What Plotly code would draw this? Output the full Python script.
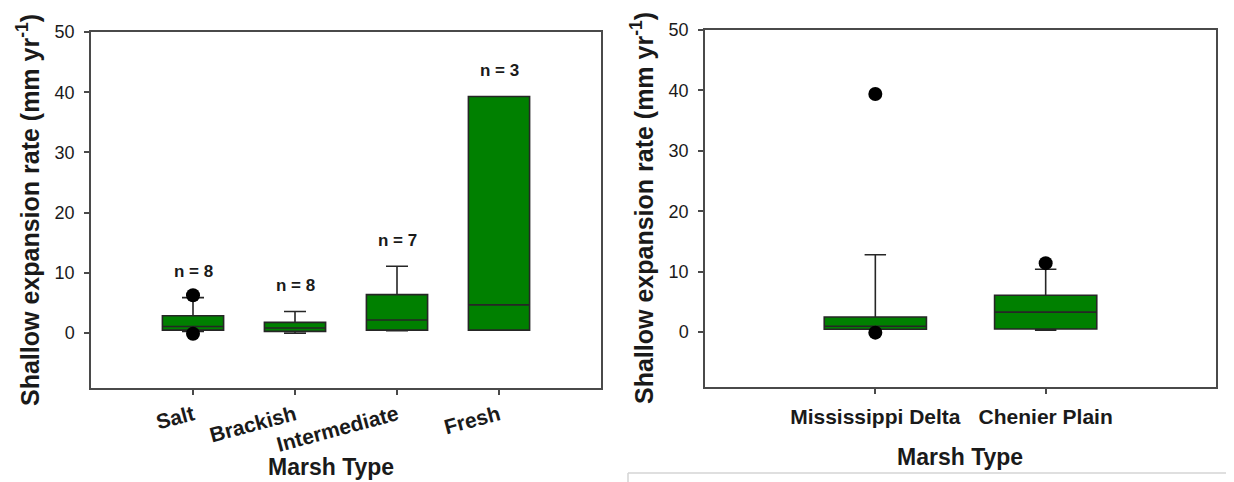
import plotly.graph_objects as go

# ---- Left panel data (by marsh type) ----
marsh_types = ["Salt", "Brackish", "Intermediate", "Fresh"]
marsh_pos = [1, 2, 3, 4]
marsh_q1 = [0.5, 0.3, 0.5, 0.5]
marsh_median = [1.1, 0.85, 2.2, 4.7]
marsh_q3 = [2.9, 1.8, 6.4, 39.3]
marsh_low = [0.3, 0.0, 0.4, 0.5]
marsh_high = [5.9, 3.6, 11.1, 39.3]
marsh_n = [8, 8, 7, 3]
marsh_out_x = [1, 1]
marsh_out_y = [6.3, -0.1]

# ---- Right panel data (by region) ----
regions = ["Mississippi Delta", "Chenier Plain"]
region_pos = [1, 2]
region_q1 = [0.45, 0.5]
region_median = [0.95, 3.3]
region_q3 = [2.5, 6.1]
region_low = [0.45, 0.3]
region_high = [12.8, 10.4]
region_out_x = [1, 1, 2]
region_out_y = [39.4, -0.1, 11.4]

y_ticks = [0, 10, 20, 30, 40, 50]

FONT = "Liberation Sans"
GREEN = "rgb(0,128,0)"
LINE = "#262626"
AXIS = "#4a4a4a"
TXT = "#1a1a1a"

# page has an 8px body margin: figure is sized to fit, and page pixels map to paper
OFF = 8
W, H = 1234 - OFF, 482 - OFF


def px(x):
    return (x - OFF) / W


def py(y):
    return 1 - (y - OFF) / H


fig = go.Figure()

fig.add_trace(go.Box(x=marsh_pos, q1=marsh_q1, median=marsh_median, q3=marsh_q3,
                     lowerfence=marsh_low, upperfence=marsh_high,
                     boxpoints=False, width=0.6, whiskerwidth=0.36,
                     fillcolor=GREEN, line=dict(color=LINE, width=1.6),
                     xaxis="x", yaxis="y", showlegend=False))
fig.add_trace(go.Box(x=region_pos, q1=region_q1, median=region_median, q3=region_q3,
                     lowerfence=region_low, upperfence=region_high,
                     boxpoints=False, width=0.6, whiskerwidth=0.21,
                     fillcolor=GREEN, line=dict(color=LINE, width=1.6),
                     xaxis="x2", yaxis="y2", showlegend=False))

# outliers
fig.add_trace(go.Scatter(x=marsh_out_x, y=marsh_out_y, mode="markers",
                         marker=dict(color="black", size=14),
                         xaxis="x", yaxis="y", showlegend=False))
fig.add_trace(go.Scatter(x=region_out_x, y=region_out_y, mode="markers",
                         marker=dict(color="black", size=14),
                         xaxis="x2", yaxis="y2", showlegend=False))

# n labels above each marsh type
for p, hi, n in zip(marsh_pos, marsh_high, marsh_n):
    fig.add_annotation(x=p, y=hi + 4.3, xref="x", yref="y", text=f"<b>n = {n}</b>",
                       showarrow=False, xanchor="center", yanchor="middle",
                       font=dict(family=FONT, size=17, color=TXT))

axis_common = dict(showline=True, linecolor=AXIS, linewidth=1.5, mirror=True,
                   ticks="outside", ticklen=5, tickcolor=AXIS, tickwidth=1.5,
                   showgrid=False, zeroline=False, automargin=False)

fig.update_layout(
    width=W, height=H,
    margin=dict(l=0, r=0, t=0, b=0, autoexpand=False),
    font=dict(family=FONT, color=TXT),
    paper_bgcolor="white", plot_bgcolor="white",
    xaxis=dict(domain=[px(91), px(601)], range=[0, 5], tickvals=marsh_pos,
               ticktext=[f"<b>{m}</b>" for m in marsh_types], tickangle=-15,
               tickfont=dict(family=FONT, size=21, color=TXT), anchor="y", **axis_common),
    yaxis=dict(domain=[py(388), py(32)], range=[-9.1, 50], tickvals=y_ticks,
               ticklabelstandoff=6,
               tickfont=dict(family=FONT, size=18, color=TXT), anchor="x", **axis_common),
    xaxis2=dict(domain=[px(705), px(1216)], range=[0, 3], tickvals=region_pos,
                ticktext=[f"<b>{r}</b>" for r in regions], tickangle=0,
                ticklabelstandoff=5,
                tickfont=dict(family=FONT, size=21, color=TXT), anchor="y2", **axis_common),
    yaxis2=dict(domain=[py(387), py(30)], range=[-9.1, 50], tickvals=y_ticks,
                ticklabelstandoff=6,
                tickfont=dict(family=FONT, size=18, color=TXT), anchor="x2", **axis_common),
)

ytitle = "<b>Shallow expansion rate (mm yr<sup>-1</sup>)</b>"
for (tx, ty) in [(28, 210), (642, 208)]:
    fig.add_annotation(x=px(tx), y=py(ty), xref="paper", yref="paper", text=ytitle,
                       textangle=-90, showarrow=False, xanchor="center", yanchor="middle",
                       font=dict(family=FONT, size=25, color=TXT))
for (tx, ty) in [(331, 467), (960, 457)]:
    fig.add_annotation(x=px(tx), y=py(ty), xref="paper", yref="paper", text="<b>Marsh Type</b>",
                       showarrow=False, xanchor="center", yanchor="middle",
                       font=dict(family=FONT, size=23, color=TXT))

# faint frame edge at bottom right
fig.add_shape(type="line", xref="paper", yref="paper", x0=px(628), x1=px(1240),
              y0=py(473), y1=py(473), line=dict(color="#d4d4d4", width=1.5))
fig.add_shape(type="line", xref="paper", yref="paper", x0=px(628), x1=px(628),
              y0=py(473), y1=py(490), line=dict(color="#d4d4d4", width=1.5))

fig.write_html("out.html")
